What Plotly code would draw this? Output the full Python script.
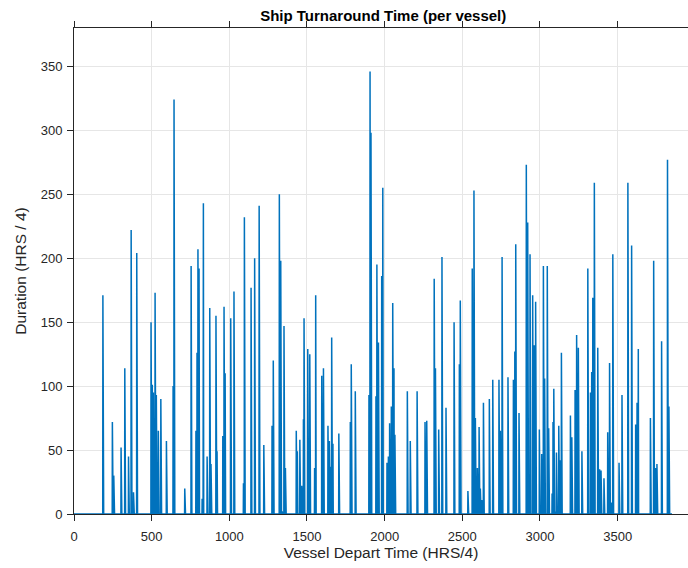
import numpy as np
import plotly.graph_objects as go

# Vessel depart time (HRS/4) and turnaround duration (HRS/4)
depart_time = [
    186, 247, 256, 303, 327, 351, 368, 377, 383, 404,
    496, 504, 511, 522, 530, 543, 559, 595, 638, 644,
    713, 754, 785, 792, 798, 805, 825, 833, 857, 874,
    882, 914, 921, 958, 966, 973, 1009, 1030, 1091, 1097,
    1140, 1163, 1192, 1222,
    1275, 1283, 1322, 1331, 1340, 1352, 1361, 1431, 1438, 1454,
    1466, 1477, 1481, 1505, 1518, 1549, 1556, 1595, 1606, 1635,
    1644, 1653, 1659, 1667, 1705, 1779, 1785, 1811,
    1899, 1906, 1912, 1944, 1950, 1960, 1981, 1988, 2015, 2024,
    2032, 2043, 2052, 2060, 2066, 2146, 2165, 2209, 2260, 2271,
    2319, 2327, 2348, 2369, 2395,
    2447, 2481, 2487, 2536, 2564, 2570, 2575, 2584, 2597, 2608,
    2616, 2625, 2636, 2674, 2696, 2736, 2745, 2756, 2794, 2829,
    2838, 2844, 2865, 2912, 2921, 2936, 2953, 2963, 2972, 2996,
    3011, 3022, 3030, 3047, 3056, 3078, 3084, 3089, 3101, 3106,
    3121, 3129, 3138, 3196, 3205, 3226, 3236, 3247, 3270, 3308,
    3325, 3333, 3340, 3350, 3372, 3384, 3393, 3412, 3436, 3448,
    3458, 3469, 3509, 3528, 3566,
    3590, 3616, 3625, 3633, 3711, 3732, 3743, 3753, 3783, 3821, 3830,
]
duration = [
    171, 72, 30, 52, 114, 45, 222, 5, 17, 204,
    150, 101, 95, 173, 93, 65, 90, 57, 100, 324,
    20, 194, 65, 126, 207, 192, 12, 243, 45, 161,
    39, 155, 49, 61, 162, 110, 153, 174, 24, 232,
    177, 200, 241, 54,
    69, 120, 250, 198, 2, 147, 36, 65, 49, 58,
    22, 74, 153, 129, 125, 36, 171, 108, 114, 69,
    57, 37, 138, 55, 63, 72, 117, 96,
    93, 346, 298, 92, 195, 134, 186, 255, 40, 45,
    71, 84, 165, 114, 62, 96, 57, 96, 72, 73,
    184, 114, 66, 201, 83,
    150, 117, 167, 18, 192, 27, 253, 75, 36, 68,
    20, 11, 87, 90, 105, 105, 65, 201, 107, 105,
    127, 211, 79, 273, 228, 203, 171, 132, 166, 66,
    47, 194, 106, 194, 67, 16, 72, 98, 2, 48,
    69, 42, 126, 77, 60, 97, 140, 130, 49, 192,
    95, 111, 169, 259, 130, 35, 34, 28, 64, 118,
    9, 203, 40, 93, 259,
    210, 70, 87, 129, 75, 198, 36, 39, 135, 277, 84,
]
end_time = 3850

x_ticks = [0, 500, 1000, 1500, 2000, 2500, 3000, 3500]
y_ticks = [0, 50, 100, 150, 200, 250, 300, 350]

time = np.arange(0, end_time + 1)
series = np.zeros(len(time))
for t, d in zip(depart_time, duration):
    series[t] = d

FONT = "Liberation Sans, Arial, Helvetica, sans-serif"
AX = "#262626"

fig = go.Figure(
    go.Scatter(x=time, y=series, mode="lines",
               line=dict(color="#0072BD", width=1.5), hoverinfo="skip")
)

fig.update_layout(
    width=688, height=568,
    margin=dict(l=74, r=0, t=28, b=54),
    paper_bgcolor="white", plot_bgcolor="white",
    showlegend=False,
    font=dict(family=FONT, color=AX, size=13),
    title=dict(text="<b>Ship Turnaround Time (per vessel)</b>",
               x=0.557, xanchor="center",
               y=1 - 16 / 568, yanchor="middle",
               font=dict(family=FONT, size=15, color="black")),
)

fig.update_xaxes(
    range=[0, 3953], tickvals=x_ticks,
    showgrid=True, gridcolor="#e6e6e6", gridwidth=1,
    zeroline=False, showline=True, linecolor=AX, linewidth=1,
    mirror="ticks", ticks="outside", ticklen=6, tickcolor=AX,
    ticklabelstandoff=4,
    tickfont=dict(size=13, color=AX),
    title=dict(text="Vessel Depart Time (HRS/4)", font=dict(size=15.5, color=AX),
               standoff=3),
)
fig.update_yaxes(
    range=[0, 380], tickvals=y_ticks,
    showgrid=True, gridcolor="#e6e6e6", gridwidth=1,
    zeroline=False, showline=True, linecolor=AX, linewidth=1,
    ticks="outside", ticklen=6, tickcolor=AX,
    ticklabelstandoff=2,
    tickfont=dict(size=13, color=AX),
    title=dict(text="Duration (HRS / 4)", font=dict(size=15.5, color=AX),
               standoff=10),
)

fig.write_html("out.html")
